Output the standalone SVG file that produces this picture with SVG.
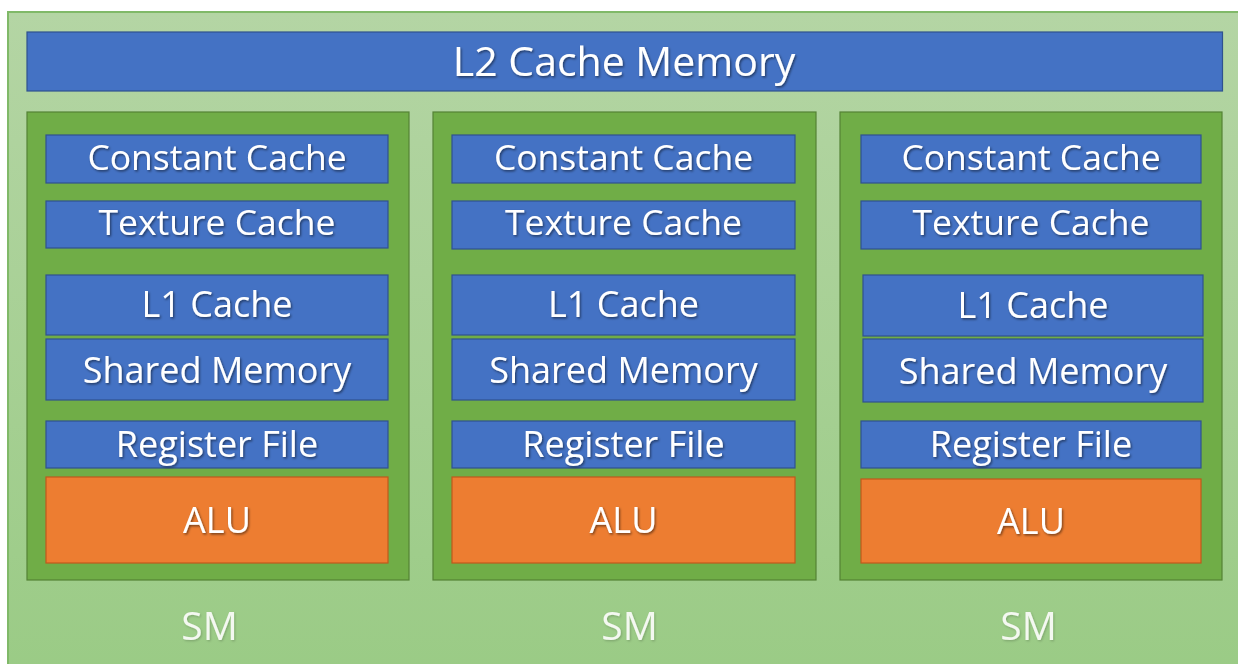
<svg xmlns="http://www.w3.org/2000/svg" width="1238" height="664" viewBox="0 0 1238 664">
  <defs>
    <linearGradient id="gpuFill" x1="0" y1="0" x2="0" y2="1">
      <stop offset="0" stop-color="#b4d5a4"/>
      <stop offset="1" stop-color="#9acb85"/>
    </linearGradient>
    <filter id="txtShadow" x="-10%" y="-30%" width="120%" height="160%">
      <feDropShadow dx="1.2" dy="1.5" stdDeviation="1" flood-color="#000" flood-opacity="0.5"/>
    </filter>
    <filter id="softShadow" x="-10%" y="-30%" width="120%" height="160%">
      <feDropShadow dx="1" dy="1.2" stdDeviation="1" flood-color="#000" flood-opacity="0.2"/>
    </filter>
  </defs>
  <style>
    .gpu { fill: url(#gpuFill); stroke: #80b968; stroke-width: 2; }
    .sm { fill: #70ad47; stroke: #548235; stroke-width: 1.2; }
    .mem { fill: #4472c4; stroke: #2f528f; stroke-width: 1.2; }
    .alu { fill: #ed7d31; stroke: #c0591c; stroke-width: 1.2; }
    text { font-family: "Open Sans", "Noto Sans", "Liberation Sans", sans-serif; fill: #ffffff; text-anchor: middle; filter: url(#txtShadow); }
    .lbl { font-size: 36px; }
    .lbl-s { font-size: 35.5px; }
    .title { font-size: 41px; }
    .smlbl { font-size: 39px; filter: url(#softShadow); fill: #f4f8f1; }
  </style>

  <rect width="1238" height="664" fill="#ffffff"/>

  <!-- GPU device frame -->
  <rect id="gpu" class="gpu" x="8" y="12" width="1240" height="670"/>

  <!-- shared L2 cache -->
  <g id="l2cache">
    <rect class="mem" x="27" y="32" width="1195.5" height="59"/>
    <text class="title" x="624" y="76">L2 Cache Memory</text>
  </g>

  <!-- streaming multiprocessor 1 -->
  <g id="sm1">
    <rect class="sm" x="27" y="112" width="382" height="468"/>
    <g id="sm1-const"><rect class="mem" x="46" y="135" width="342" height="48"/><text class="lbl-s" x="217" y="170">Constant Cache</text></g>
    <g id="sm1-tex"><rect class="mem" x="46" y="201" width="342" height="47"/><text class="lbl-s" x="217" y="235">Texture Cache</text></g>
    <g id="sm1-l1"><rect class="mem" x="46" y="275" width="342" height="60"/><text class="lbl" x="217" y="317">L1 Cache</text></g>
    <g id="sm1-shared"><rect class="mem" x="46" y="339" width="342" height="61"/><text class="lbl" x="217" y="383">Shared Memory</text></g>
    <g id="sm1-reg"><rect class="mem" x="46" y="421" width="342" height="47"/><text class="lbl" x="217" y="457">Register File</text></g>
    <g id="sm1-alu"><rect class="alu" x="46" y="477" width="342" height="86"/><text class="lbl" x="217" y="533">ALU</text></g>
    <text class="smlbl" x="209.5" y="640">SM</text>
  </g>

  <!-- streaming multiprocessor 2 -->
  <g id="sm2">
    <rect class="sm" x="433" y="112" width="383" height="468"/>
    <g id="sm2-const"><rect class="mem" x="452" y="135" width="343" height="48"/><text class="lbl-s" x="623.5" y="170">Constant Cache</text></g>
    <g id="sm2-tex"><rect class="mem" x="452" y="201" width="343" height="48"/><text class="lbl-s" x="623.5" y="235">Texture Cache</text></g>
    <g id="sm2-l1"><rect class="mem" x="452" y="275" width="343" height="60"/><text class="lbl" x="623.5" y="317">L1 Cache</text></g>
    <g id="sm2-shared"><rect class="mem" x="452" y="339" width="343" height="61"/><text class="lbl" x="623.5" y="383">Shared Memory</text></g>
    <g id="sm2-reg"><rect class="mem" x="452" y="421" width="343" height="47"/><text class="lbl" x="623.5" y="457">Register File</text></g>
    <g id="sm2-alu"><rect class="alu" x="452" y="477" width="343" height="86"/><text class="lbl" x="623.5" y="533">ALU</text></g>
    <text class="smlbl" x="629.5" y="640">SM</text>
  </g>

  <!-- streaming multiprocessor 3 -->
  <g id="sm3">
    <rect class="sm" x="840" y="112" width="382" height="468"/>
    <g id="sm3-const"><rect class="mem" x="861" y="135" width="340" height="48"/><text class="lbl-s" x="1031" y="170">Constant Cache</text></g>
    <g id="sm3-tex"><rect class="mem" x="861" y="201" width="340" height="48"/><text class="lbl-s" x="1031" y="235">Texture Cache</text></g>
    <g id="sm3-l1"><rect class="mem" x="863" y="275" width="340" height="61"/><text class="lbl" x="1033" y="318">L1 Cache</text></g>
    <g id="sm3-shared"><rect class="mem" x="863" y="339" width="340" height="63"/><text class="lbl" x="1033" y="384">Shared Memory</text></g>
    <g id="sm3-reg"><rect class="mem" x="861" y="421" width="340" height="47"/><text class="lbl" x="1031" y="457">Register File</text></g>
    <g id="sm3-alu"><rect class="alu" x="861" y="479" width="340" height="84"/><text class="lbl" x="1031" y="534">ALU</text></g>
    <text class="smlbl" x="1028.5" y="640">SM</text>
  </g>

  <!-- no connectors in this block diagram -->
  <g id="connectors"/>
</svg>
